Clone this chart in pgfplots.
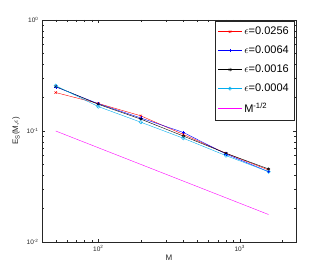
\documentclass[border=0pt]{standalone}
\usepackage{fontspec}
\setmainfont{Liberation Sans}
\usepackage{pgfplots}
\pgfplotsset{compat=1.18}
\definecolor{axgray}{rgb}{0.15,0.15,0.15}
\definecolor{mmag}{rgb}{1,0,1}
\begin{document}
\begin{tikzpicture}[x=1pt,y=1pt]
\useasboundingbox (-42,-31) rectangle (285,242);
\begin{axis}[
  at={(0,0)}, anchor=south west,
  scale only axis, width=254pt, height=222pt,
  xmode=log, ymode=log,
  xmin=40, xmax=2500, ymin=0.01, ymax=1,
  axis line style={axgray, line width=0.4pt},
  tick style={axgray, line width=0.4pt},
  major tick length=3pt, minor tick length=1.8pt,
  tick align=inside,
  xtick={100,1000}, xticklabels={10\textsuperscript{2},10\textsuperscript{3}},
  ytick={0.01,0.1,1}, yticklabels={10\textsuperscript{-2},10\textsuperscript{-1},10\textsuperscript{0}},
  minor xtick={50,60,70,80,90,200,300,400,500,600,700,800,900,2000},
  minor ytick={0.02,0.03,0.04,0.05,0.06,0.07,0.08,0.09,0.2,0.3,0.4,0.5,0.6,0.7,0.8,0.9},
  ticklabel style={font=\fontsize{6.5}{7}\selectfont, text=axgray},
  xlabel={M}, ylabel={E\textsubscript{S}(M,$\epsilon$)},
  label style={font=\fontsize{8}{9}\selectfont, text=axgray},
  xlabel style={yshift=3pt},
  ylabel style={yshift=0pt},
  legend style={at={(0.992,0.996)}, anchor=north east, draw=axgray, line width=0.4pt,
    font=\fontsize{11}{12}\selectfont, row sep=5.8pt, inner xsep=3pt, inner ysep=4pt,
    cells={anchor=west}},
  legend image code/.code={%
    \draw[#1, mark repeat=2, mark phase=2] plot coordinates {(0pt,0pt) (12pt,0pt) (24pt,0pt)};},
  every axis plot/.append style={line width=0.4pt, mark size=1.7pt},
]
\addplot[red, mark=x, mark options={red}] coordinates {(50,0.222) (100,0.177) (200,0.137) (400,0.093) (800,0.063) (1600,0.0445)};
\addlegendentry{$\epsilon$=0.0256}
\addplot[blue, mark=+, mark options={blue}] coordinates {(50,0.250) (100,0.176) (200,0.131) (400,0.097) (800,0.062) (1600,0.043)};
\addlegendentry{$\epsilon$=0.0064}
\addplot[black, mark=asterisk, mark options={black}] coordinates {(50,0.252) (100,0.174) (200,0.128) (400,0.090) (800,0.063) (1600,0.0455)};
\addlegendentry{$\epsilon$=0.0016}
\addplot[cyan, mark=o, mark options={cyan}] coordinates {(50,0.256) (100,0.166) (200,0.120) (400,0.086) (800,0.060) (1600,0.043)};
\addlegendentry{$\epsilon$=0.0004}
\addplot[mmag, no marks] coordinates {(50,0.1) (100,0.07071) (200,0.05) (400,0.03536) (800,0.025) (1600,0.01768)};
\addlegendentry{M\textsuperscript{-1/2}}
\end{axis}
\end{tikzpicture}
\end{document}
